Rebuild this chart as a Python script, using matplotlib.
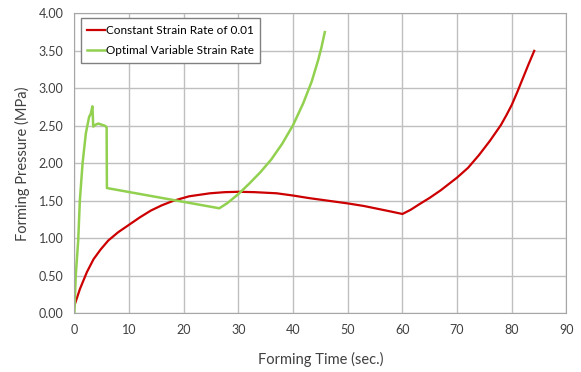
import matplotlib
matplotlib.use('Agg')
import matplotlib.pyplot as plt

# Constant strain rate curve (red)
const_time = [0, 1, 2.3, 3.5, 4.8, 6.2, 8, 10, 12, 14, 16, 18.1,
              21, 24.8, 27.5, 30, 33, 37, 40, 43, 46.5, 50, 53, 56, 58, 60,
              61.5, 63, 65, 67, 70, 72, 74, 76, 78, 79, 80, 81, 82, 83, 84.1]
const_pres = [0.10, 0.32, 0.55, 0.72, 0.85, 0.97, 1.08, 1.18, 1.28, 1.37, 1.44, 1.50,
              1.56, 1.60, 1.615, 1.62, 1.615, 1.60, 1.57, 1.535, 1.50, 1.465, 1.43, 1.385, 1.355, 1.324,
              1.38, 1.45, 1.54, 1.64, 1.81, 1.94, 2.11, 2.30, 2.51, 2.64, 2.78, 2.95, 3.13, 3.31, 3.50]

# Optimal variable strain rate curve (green)
opt_time = [0, 0.25, 0.7, 1.0, 1.5, 2.1, 2.7, 3.0, 3.3, 3.45, 4.0, 4.4, 5.6, 5.9, 5.95,
            26.5, 28, 30, 32, 34, 36, 38, 40, 41.85, 43.4, 44.6, 45.2, 45.8]
opt_pres = [0.0, 0.5, 0.97, 1.5, 2.0, 2.4, 2.62, 2.66, 2.76, 2.49, 2.52, 2.53, 2.50, 2.48, 1.67,
            1.40, 1.47, 1.59, 1.73, 1.88, 2.05, 2.26, 2.51, 2.80, 3.09, 3.38, 3.55, 3.75]

x_ticks = list(range(0, 91, 10))
y_ticks = [0.0, 0.5, 1.0, 1.5, 2.0, 2.5, 3.0, 3.5, 4.0]

plt.rcParams['font.family'] = ['Lato', 'DejaVu Sans']

fig = plt.figure(figsize=(5.81, 3.72), dpi=100)
ax = fig.add_axes([0.128, 0.158, 0.847, 0.806])

ax.plot(const_time, const_pres, color='#CC0000', lw=1.6, label='Constant Strain Rate of 0.01')
ax.plot(opt_time, opt_pres, color='#92D050', lw=1.8, label='Optimal Variable Strain Rate')

ax.set_xlim(0, 90)
ax.set_ylim(0, 4)
ax.set_xticks(x_ticks)
ax.set_yticks(y_ticks)
ax.set_yticklabels(['%.2f' % v for v in y_ticks])
ax.grid(True, color='#BFBFBF', lw=1)
ax.set_axisbelow(True)
ax.tick_params(length=0, labelsize=9, colors='#404040', pad=8)
for s in ax.spines.values():
    s.set_color('#A6A6A6')

ax.set_xlabel('Forming Time (sec.)', fontsize=10.5, color='#404040', labelpad=11)
ax.set_ylabel('Forming Pressure (MPa)', fontsize=10.5, color='#404040', labelpad=6)

leg = ax.legend(loc='upper left', bbox_to_anchor=(0.0126, 0.983), borderaxespad=0,
                fontsize=8.5, handlelength=1.5, handletextpad=0.1, fancybox=False,
                framealpha=1, borderpad=0.55, labelspacing=0.8)
leg.get_frame().set_edgecolor('#808080')
leg.get_frame().set_linewidth(1)

fig.savefig('out.png', dpi=100)
